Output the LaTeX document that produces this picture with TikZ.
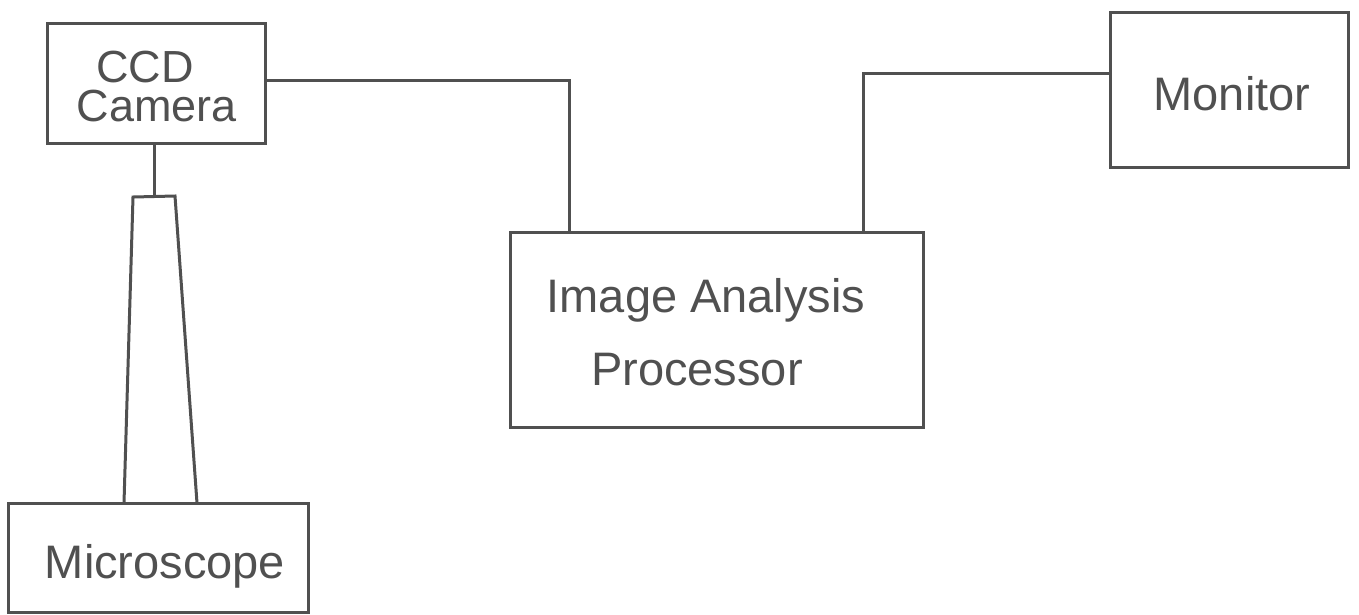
\documentclass[tikz,border=0pt]{standalone}
\usepackage{fontspec}
\setmainfont{Liberation Sans}
\definecolor{ink}{HTML}{505050}
\begin{document}
\begin{tikzpicture}[x=1pt,y=-1pt,
  box/.style={draw=ink,line width=3pt,inner sep=0pt,outer sep=0pt,rectangle},
  lbl/.style={anchor=base,text=ink,inner sep=0pt,font=\fontsize{47}{52}\selectfont},
  smalllbl/.style={lbl,font=\fontsize{45}{50}\selectfont},
  wire/.style={draw=ink,line width=3pt,line join=miter}]
\useasboundingbox (0,0) rectangle (1359,614);
% boxes
\node[box,minimum width=218pt,minimum height=120pt] (cam) at (156,83) {};
\node[box,minimum width=300pt,minimum height=109pt] (mic) at (158,557.5) {};
\node[box,minimum width=413pt,minimum height=195pt] (img) at (716.5,329.5) {};
\node[box,minimum width=238pt,minimum height=155pt] (mon) at (1229,89.5) {};
% labels
\node[smalllbl] (tccd) at (145,82) {CCD};
\node[smalllbl] (tcam) at (157,121) {Camera};
\node[lbl] (tmic) at (165,578) {Microscope};
\node[lbl] (timg) at (706,312) {Image Analysis};
\node[lbl] (tpro) at (697,385) {Processor};
\node[lbl] (tmon) at (1232,110) {Monitor};
% microscope tube
\coordinate (tl) at (133,197);
\coordinate (tr) at (175,196);
\coordinate (bl) at (124,503);
\coordinate (br) at (197,503);
\coordinate (tubetop) at (154,197);
\draw[wire] (bl) -- (tl) -- (tr) -- (br);
\draw[wire] (cam.south -| tubetop) -- (tubetop);
% connectors
\coordinate (imgin) at (569,232);
\coordinate (imgout) at (863,232);
\draw[wire] ([yshift=3pt]cam.east) -| (imgin);
\draw[wire] (imgout) |- ([yshift=16.5pt]mon.west);
\end{tikzpicture}
\end{document}
